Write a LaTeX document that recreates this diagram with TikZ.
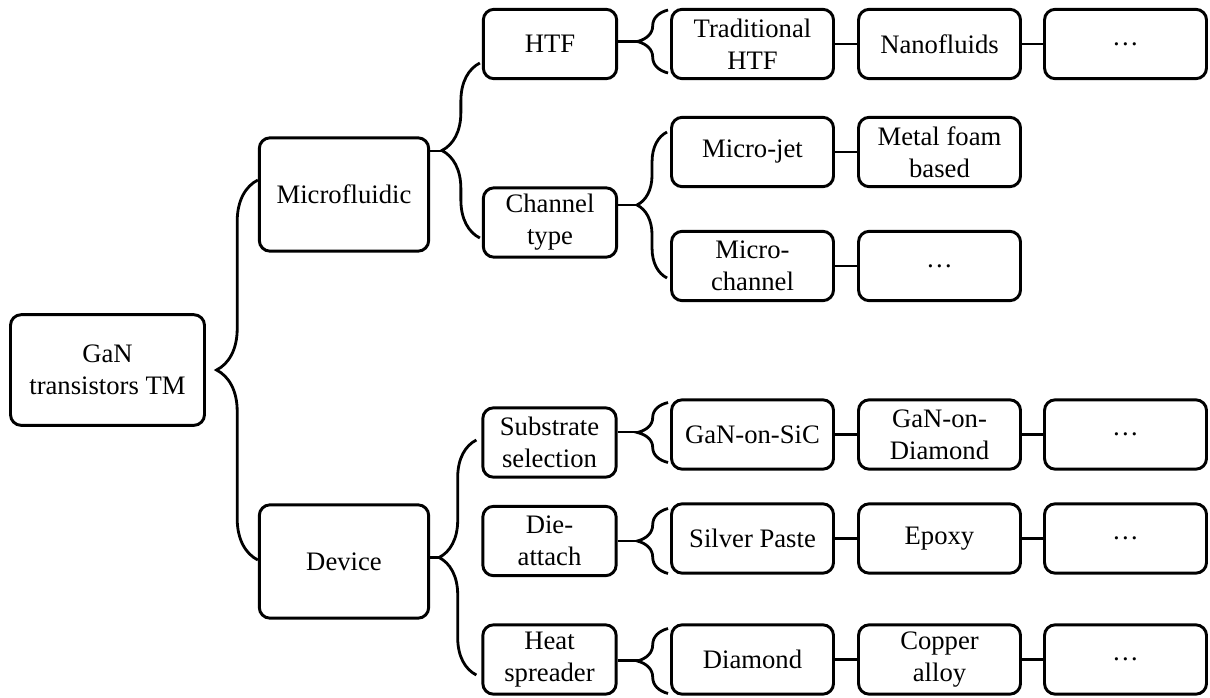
\documentclass[tikz,border=0pt]{standalone}
\usepackage{fontspec}
\setmainfont{Liberation Serif}
\usetikzlibrary{calc,decorations.pathreplacing}

\begin{document}
\begin{tikzpicture}[x=0.75pt, y=-0.75pt,
    box/.style={draw, line width=2.2pt, rounded corners=8pt, align=center,
      inner sep=0pt, font=\fontsize{20}{24}\selectfont},
    rootbox/.style={box, minimum width=145.5pt, minimum height=83pt},
    midbox/.style={box, minimum width=127pt, minimum height=85pt},
    subbox/.style={box, minimum width=100pt, minimum height=52pt},
    leafbox/.style={box, minimum width=121.5pt, minimum height=52pt},
    link/.style={line width=2.1pt},
    curly/.style={line width=2.1pt, decorate, decoration={brace, amplitude=#1}}]
    \useasboundingbox (0,0) rectangle (1210,697);

    \node[rootbox] (root) at (107.5,370) {GaN\\transistors TM};

    \node[midbox] (micro) at (344,194.5) {Microfluidic};
    \node[midbox] (device) at (344,561.5) {Device};

    \node[subbox] (htf) at (550,44) {HTF};
    \node[subbox] (chan) at (550,222.5) {Channel\\type};
    \node[subbox] (subs) at (549.5,442.5) {Substrate\\selection};
    \node[subbox] (die) at (549.5,541) {Die-\\attach};
    \node[subbox] (heat) at (549.5,659.5) {Heat\\spreader};

    \node[leafbox] (trad) at (752.5,44) {Traditional\\HTF};
    \node[leafbox] (jet) at (752.5,152) {Micro-jet};
    \node[leafbox] (mchan) at (752.5,266) {Micro-\\channel};
    \node[leafbox] (sic) at (752.5,434.5) {GaN-on-SiC};
    \node[leafbox] (silver) at (752.5,538.5) {Silver Paste};
    \node[leafbox] (diam) at (752.5,659.5) {Diamond};

    \node[leafbox] (nano) at (939.5,44) {Nanofluids};
    \node[leafbox] (foam) at (939.5,152) {Metal foam\\based};
    \node[leafbox] (mdots) at (939.5,266) {\ldots};
    \node[leafbox] (gdia) at (939.5,434.5) {GaN-on-\\Diamond};
    \node[leafbox] (epoxy) at (939.5,538.5) {Epoxy};
    \node[leafbox] (copper) at (939.5,659.5) {Copper\\alloy};

    \node[leafbox] (hdots) at (1125.5,44) {\ldots};
    \node[leafbox] (gdots) at (1125.5,434.5) {\ldots};
    \node[leafbox] (edots) at (1125.5,538.5) {\ldots};
    \node[leafbox] (cdots) at (1125.5,659.5) {\ldots};

    \draw[curly=31pt] ($(device.west)+(0,-1.5)$) -- ($(micro.west)+(0,-14.5)$);

    \draw[curly=28.5pt] ($(chan.west)+(-2,15.5)$) -- ($(htf.west)+(-2,19)$);
    \draw[link] (micro.east |- 0,151) -- ++(12,0);
    \draw[curly=28pt] ($(heat.west)+(-5,15.5)$) -- ($(subs.west)+(-5,-2.5)$);
    \draw[link] (device.east |- 0,557.5) -- ++(10,0);

    \draw[curly=23pt] ($(trad.west)+(-2,29)$) -- ($(trad.west)+(-2,-34)$);
    \draw[link] (htf.east |- 0,41.5) -- ++(21,0);
    \draw[curly=22.5pt] ($(mchan.west)+(-3,12)$) -- ($(jet.west)+(-3,-20)$);
    \draw[link] (chan.east |- 0,205) -- ++(20,0);
    \draw[curly=23pt] ($(sic.west)+(-2,28)$) -- ($(sic.west)+(-2,-32)$);
    \draw[link] (subs.east |- 0,432) -- ++(21,0);
    \draw[curly=23pt] ($(silver.west)+(-2,35)$) -- ($(silver.west)+(-2,-30)$);
    \draw[link] (die.east |- 0,541) -- ++(21,0);
    \draw[curly=23pt] ($(diam.west)+(-2,34)$) -- ($(diam.west)+(-2,-31)$);
    \draw[link] (heat.east |- 0,660.5) -- ++(21,0);

    \foreach \a/\b in {trad/nano, nano/hdots, jet/foam, mchan/mdots, sic/gdia,
      gdia/gdots, silver/epoxy, epoxy/edots, diam/copper, copper/cdots}
      \draw[link] (\a) -- (\b);
\end{tikzpicture}
\end{document}
